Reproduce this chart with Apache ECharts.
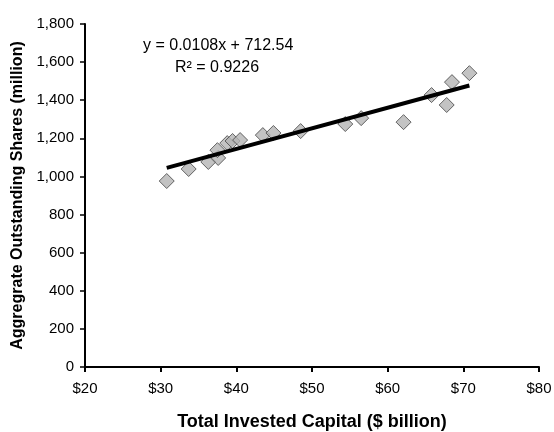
<!DOCTYPE html>
<html>
<head>
<meta charset="utf-8">
<script src="https://cdn.jsdelivr.net/npm/echarts@6/dist/echarts.min.js"></script>
<style>
  html, body { margin: 0; padding: 0; background: #fff; }
  #chart { width: 554px; height: 432px; }
</style>
</head>
<body>
<div id="chart"></div>
<script>
// 数据：总投入资本（十亿美元）与流通股总数（百万）
var capital = [30.8, 33.7, 36.3, 37.6, 37.5, 38.8, 39.5, 40.5, 43.5, 44.9, 48.5, 54.4, 56.5, 62.1, 65.8, 67.8, 68.5, 70.8];
var shares = [976, 1039, 1076, 1097, 1138, 1175, 1186, 1191, 1217, 1228, 1238, 1275, 1306, 1285, 1427, 1375, 1495, 1542];

// 趋势线（图上给出的公式，x 以百万美元计）
var slope = 0.0108;
var intercept = 712.54;
var trendX = [30.8, 70.8];

var xTicks = ['$20', '$30', '$40', '$50', '$60', '$70', '$80'];

var points = capital.map(function (c, i) { return [c, shares[i]]; });
var trend = trendX.map(function (c) { return [c, slope * c * 1000 + intercept]; });

var font = 'Liberation Sans, Arial, sans-serif';
var myChart = echarts.init(document.getElementById('chart'));

var option = {
  animation: false,
  textStyle: { fontFamily: font },
  grid: { left: 85, right: 15, top: 24, bottom: 65, outerBoundsMode: 'none', containLabel: false },
  xAxis: {
    type: 'value',
    min: 20,
    max: 80,
    interval: 10,
    name: 'Total Invested Capital ($ billion)',
    nameLocation: 'middle',
    nameGap: 46,
    nameTextStyle: { fontSize: 18, fontWeight: 'bold', color: '#000' },
    axisLine: { lineStyle: { color: '#000', width: 2 } },
    axisTick: { inside: false, length: 5, lineStyle: { color: '#000', width: 2 } },
    axisLabel: {
      fontSize: 15, color: '#000', margin: 14,
      formatter: function (v) { return xTicks[(v - 20) / 10]; }
    },
    splitLine: { show: false }
  },
  yAxis: {
    type: 'value',
    min: 0,
    max: 1800,
    interval: 200,
    name: 'Aggregrate Outstanding Shares (million)',
    nameLocation: 'middle',
    nameGap: 57,
    nameTextStyle: { fontSize: 16, fontWeight: 'bold', color: '#000' },
    axisLine: { show: true, lineStyle: { color: '#000', width: 2 } },
    axisTick: { show: true, length: 5, lineStyle: { color: '#000', width: 1.5 } },
    axisLabel: {
      fontSize: 15, color: '#000', margin: 11,
      formatter: function (v) { return v.toLocaleString('en-US'); }
    },
    splitLine: { show: false }
  },
  series: [
    {
      name: 'data',
      type: 'scatter',
      symbol: 'diamond',
      symbolSize: 15,
      data: points,
      itemStyle: { color: '#b4b4b4', borderColor: '#444', borderWidth: 1 },
      z: 2
    },
    {
      name: 'trend',
      type: 'line',
      data: trend,
      symbol: 'none',
      lineStyle: { color: '#000', width: 4 },
      z: 3
    }
  ],
  graphic: [
    {
      type: 'text', left: 143, top: 38,
      style: { text: 'y = 0.0108x + 712.54', fontSize: 16, fill: '#000', fontFamily: font }
    },
    {
      type: 'text', left: 175, top: 60,
      style: { text: 'R² = 0.9226', fontSize: 16, fill: '#000', fontFamily: font }
    }
  ]
};

myChart.setOption(option);
</script>
</body>
</html>
